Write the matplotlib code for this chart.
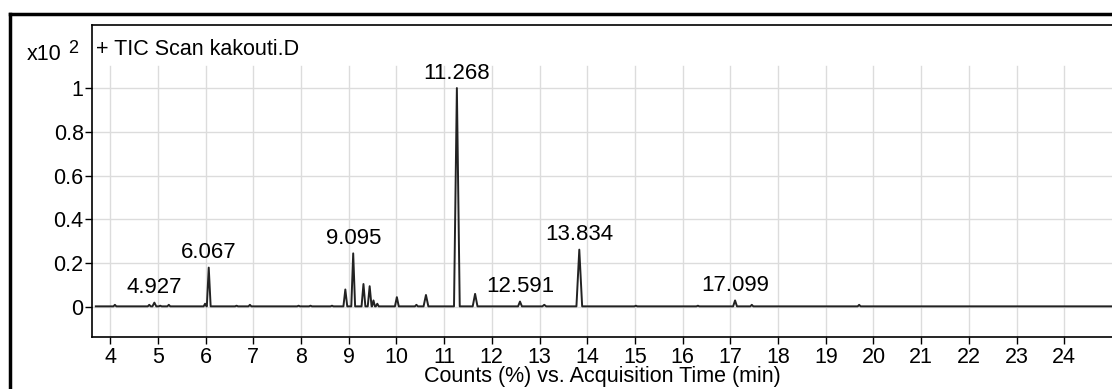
import matplotlib
matplotlib.use("agg")
import matplotlib.pyplot as plt
from matplotlib.lines import Line2D
import numpy as np

plt.rcParams["font.family"] = ["Liberation Sans", "DejaVu Sans"]

# peaks: retention time (min), height (x10^2 counts), half base width (min)
peak_rt = [4.10, 4.82, 4.927, 5.05, 5.23, 5.99, 6.067, 6.65, 6.93, 7.95, 8.20, 8.65,
           8.93, 9.095, 9.31, 9.44, 9.52, 9.60, 10.01, 10.42, 10.62, 11.268, 11.65,
           12.591, 13.10, 13.834, 15.02, 16.32, 17.099, 17.45, 19.70]
peak_height = [0.010, 0.010, 0.020, 0.006, 0.010, 0.015, 0.180, 0.006, 0.010, 0.006, 0.006, 0.006,
               0.080, 0.245, 0.105, 0.095, 0.030, 0.015, 0.045, 0.010, 0.055, 1.000, 0.060,
               0.025, 0.010, 0.262, 0.006, 0.006, 0.030, 0.010, 0.010]
peak_halfwidth = [0.03, 0.03, 0.04, 0.03, 0.03, 0.03, 0.04, 0.03, 0.03, 0.03, 0.03, 0.03,
                  0.04, 0.04, 0.04, 0.04, 0.03, 0.03, 0.04, 0.03, 0.05, 0.06, 0.05,
                  0.04, 0.04, 0.06, 0.03, 0.03, 0.04, 0.03, 0.03]
baseline = 0.003
run_start, run_end = 3.70, 25.2

labels = ["4.927", "6.067", "9.095", "11.268", "12.591", "13.834", "17.099"]
label_rt = [4.927, 6.067, 9.095, 11.268, 12.591, 13.834, 17.099]
label_height = [0.020, 0.180, 0.245, 1.000, 0.025, 0.262, 0.030]

# build the trace polyline as triangles on a flat baseline
trace_t = [run_start]
trace_y = [baseline]
for rt, h, w in zip(peak_rt, peak_height, peak_halfwidth):
    trace_t += [rt - w, rt, rt + w]
    trace_y += [baseline, h, baseline]
trace_t.append(run_end)
trace_y.append(baseline)

fig = plt.figure(figsize=(11.12, 3.89), dpi=100)
W, H = 1112, 389
ax = fig.add_axes([92 / W, (H - 337) / H, 1 - 92 / W, (337 - 25) / H])

ax.set_xlim(3.62, 25.0)
ax.set_ylim(-0.137, 1.288)

# grid
for x in range(4, 25):
    ax.axvline(x, ymin=0, ymax=(1.10 + 0.137) / (1.288 + 0.137), color="#dcdcdc", lw=1, zorder=0)
for y in np.arange(0, 1.01, 0.2):
    ax.axhline(y, color="#dcdcdc", lw=1, zorder=0)

ax.plot(trace_t, trace_y, color="#222222", lw=1.4)

for lab, x, y in zip(labels, label_rt, label_height):
    ax.annotate(lab, (x, y), xytext=(0, 3), textcoords="offset points",
                ha="center", va="bottom", fontsize=16)

ax.set_xticks(range(4, 25))
ax.set_xticklabels([str(i) for i in range(4, 25)])
ax.set_yticks([0, 0.2, 0.4, 0.6, 0.8, 1.0])
ax.set_yticklabels(["0", "0.2", "0.4", "0.6", "0.8", "1"])
ax.tick_params(axis="both", labelsize=15.5, length=5, width=1, color="black")
ax.tick_params(axis="x", pad=2)
ax.tick_params(axis="y", pad=1)
ax.spines["right"].set_visible(False)
for s in ["left", "bottom", "top"]:
    ax.spines[s].set_linewidth(1.2)

ax.set_xlabel("Counts (%) vs. Acquisition Time (min)", fontsize=15.5, labelpad=-1)

ax.text(0.004, 0.955, "+ TIC Scan kakouti.D", transform=ax.transAxes,
        ha="left", va="top", fontsize=15.5)
fig.text(27 / W, 1 - 60 / H, "x10", fontsize=15.5, ha="left", va="baseline")
fig.text(68 / W, 1 - 53 / H, "2", fontsize=13, ha="left", va="baseline")

# outer frame
fig.add_artist(Line2D([10 / W, 1], [1 - 14 / H, 1 - 14 / H], transform=fig.transFigure, color="black", lw=2.5))
fig.add_artist(Line2D([10 / W, 10 / W], [0, 1 - 14 / H], transform=fig.transFigure, color="black", lw=2.5))

fig.savefig("out.png", dpi=100)
